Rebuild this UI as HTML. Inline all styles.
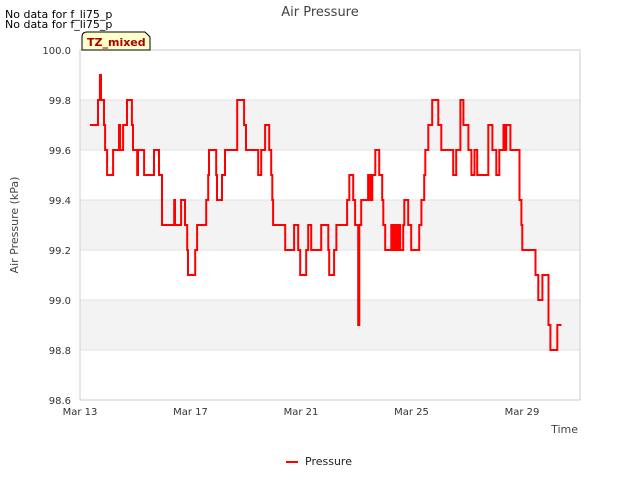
<!DOCTYPE html>
<html><head><meta charset="utf-8"><style>
body{margin:0;background:#fff;font-family:"Liberation Sans","DejaVu Sans",sans-serif;}
</style></head><body>
<svg width="640" height="480" xmlns="http://www.w3.org/2000/svg" font-family="DejaVu Sans, Liberation Sans, sans-serif">
<rect width="640" height="480" fill="#fff"/>
<g id="bands"></g>
<g id="grid"></g>
<rect x="80" y="50" width="500" height="350" fill="none" stroke="#ccc"/>
<g id="yticks"></g>
<g id="xticks"></g>
<path id="line" fill="none" stroke="#ff0000" stroke-width="2"/>
<text x="320" y="16" text-anchor="middle" font-size="13" fill="#444">Air Pressure</text>
<text x="5" y="18" font-size="11" fill="#000">No data for f_li75_p</text>
<text x="5" y="28" font-size="11" fill="#000">No data for f_li75_p</text>
<path d="M82,50 L82,37 Q82,32 87,32 L145,32 L150,37 L150,50 Z" fill="#ffffcc" stroke="#000"/>
<text x="87" y="46" font-size="11" font-weight="bold" fill="#aa0000">TZ_mixed</text>
<text x="18" y="225" font-size="11" fill="#444" text-anchor="middle" transform="rotate(-90 18 225)">Air Pressure (kPa)</text>
<text x="578" y="433" font-size="11" fill="#444" text-anchor="end">Time</text>
<line x1="286" y1="462" x2="298" y2="462" stroke="#ff0000" stroke-width="2"/>
<text x="305" y="465" font-size="11" fill="#222">Pressure</text>
</svg>
<script>
const days=[0.36,0.65,0.72,0.76,0.87,0.91,0.98,1.20,1.41,1.45,1.56,1.70,1.88,1.92,2.07,2.10,2.32,2.68,2.86,2.97,3.41,3.44,3.66,3.80,3.88,3.91,4.17,4.24,4.57,4.64,4.67,4.93,4.96,5.14,5.25,5.69,5.94,6.01,6.45,6.56,6.70,6.85,6.92,6.96,6.99,7.43,7.75,7.90,7.97,8.19,8.26,8.37,8.73,8.99,9.02,9.20,9.28,9.67,9.75,9.89,9.96,10.07,10.11,10.18,10.43,10.47,10.51,10.54,10.58,10.69,10.83,10.94,10.98,11.05,11.27,11.30,11.34,11.41,11.45,11.52,11.56,11.59,11.70,11.74,11.88,11.99,12.28,12.36,12.46,12.50,12.61,12.75,12.97,13.08,13.51,13.62,13.77,13.88,14.06,14.17,14.28,14.38,14.78,14.93,15.07,15.18,15.33,15.40,15.43,15.58,15.91,15.98,16.01,16.49,16.59,16.74,16.96,17.03,17.28];
const pressure=[99.7,99.8,99.9,99.8,99.7,99.6,99.5,99.6,99.7,99.6,99.7,99.8,99.7,99.6,99.5,99.6,99.5,99.6,99.5,99.3,99.4,99.3,99.4,99.3,99.2,99.1,99.2,99.3,99.4,99.5,99.6,99.5,99.4,99.5,99.6,99.8,99.7,99.6,99.5,99.6,99.7,99.6,99.5,99.4,99.3,99.2,99.3,99.2,99.1,99.2,99.3,99.2,99.3,99.2,99.1,99.2,99.3,99.4,99.5,99.4,99.3,98.9,99.3,99.4,99.5,99.4,99.5,99.4,99.5,99.6,99.5,99.4,99.3,99.2,99.3,99.2,99.3,99.2,99.3,99.2,99.3,99.2,99.3,99.4,99.3,99.2,99.3,99.4,99.5,99.6,99.7,99.8,99.7,99.6,99.5,99.6,99.8,99.7,99.6,99.5,99.6,99.5,99.7,99.6,99.5,99.6,99.7,99.6,99.7,99.6,99.4,99.3,99.2,99.1,99.0,99.1,98.9,98.8,98.9];
const endDay=17.43;
const yTicks=[98.6,98.8,99.0,99.2,99.4,99.6,99.8,100.0];
const xTickDays=[0,4,8,12,16];
const xTickLabels=["Mar 13","Mar 17","Mar 21","Mar 25","Mar 29"];
const X=d=>80+d*(500/18.1);
const Y=v=>400-(v-98.6)*(350/1.4);
const NS="http://www.w3.org/2000/svg";
const bands=document.getElementById('bands'),grid=document.getElementById('grid'),yt=document.getElementById('yticks'),xt=document.getElementById('xticks');
for(let i=0;i<yTicks.length-1;i++){
  if(i%2===1){const r=document.createElementNS(NS,'rect');
  r.setAttribute('x',80);r.setAttribute('y',Y(yTicks[i+1]));r.setAttribute('width',500);r.setAttribute('height',Y(yTicks[i])-Y(yTicks[i+1]));r.setAttribute('fill','#f3f3f3');
  
  
  bands.appendChild(r);}
}
yTicks.forEach(v=>{
  const l=document.createElementNS(NS,'line');
  l.setAttribute('x1',80);l.setAttribute('x2',580);l.setAttribute('y1',Y(v));l.setAttribute('y2',Y(v));l.setAttribute('stroke','#e0e0e0');
  
  
  grid.appendChild(l);
  const t=document.createElementNS(NS,'text');
  t.setAttribute('x',71);t.setAttribute('y',Y(v)+4);t.setAttribute('text-anchor','end');t.setAttribute('font-size','10');t.setAttribute('fill','#333');
  t.textContent=v.toFixed(1);
  
  
  yt.appendChild(t);
});
xTickDays.forEach((d,i)=>{
  const t=document.createElementNS(NS,'text');
  t.setAttribute('x',X(d));t.setAttribute('y',415);t.setAttribute('text-anchor','middle');t.setAttribute('font-size','10');t.setAttribute('fill','#333');
  t.textContent=xTickLabels[i];
  
  
  xt.appendChild(t);
});
let d='M'+X(days[0]).toFixed(1)+','+Y(pressure[0]).toFixed(1);
for(let i=1;i<days.length;i++){
  d+=' H'+X(days[i]).toFixed(1)+' V'+Y(pressure[i]).toFixed(1);
}
d+=' H'+X(endDay).toFixed(1);
document.getElementById('line').setAttribute('d',d);
</script>
</body></html>
